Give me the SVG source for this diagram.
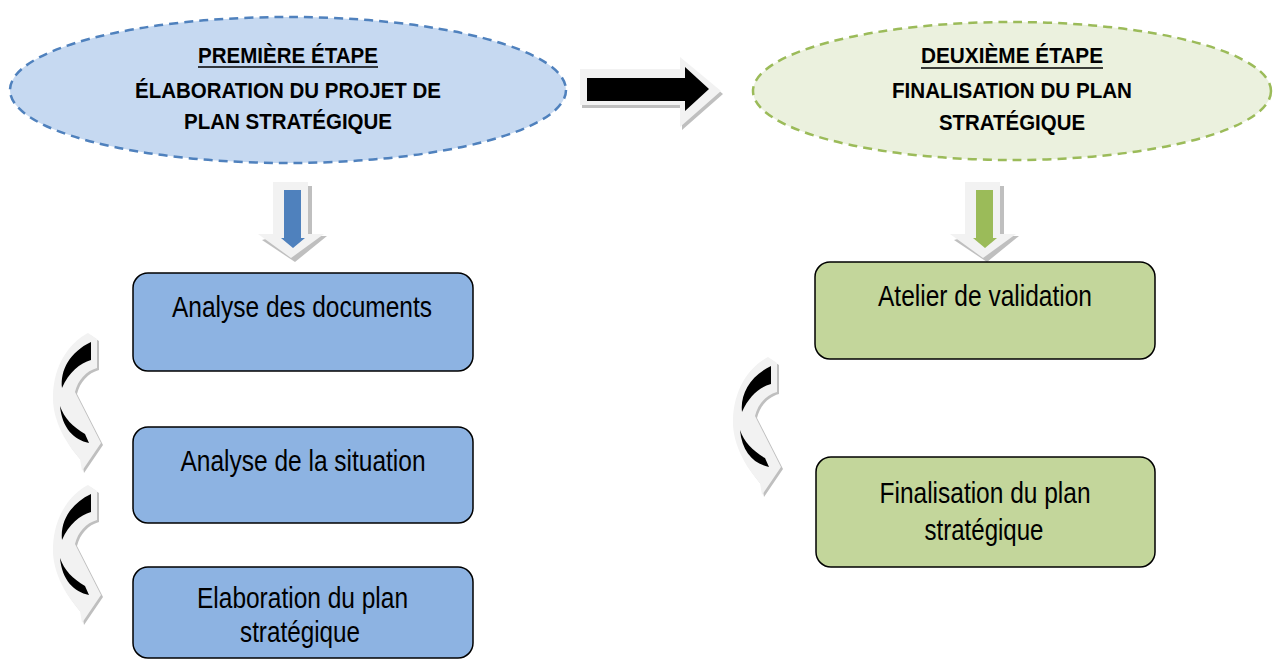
<svg xmlns="http://www.w3.org/2000/svg" width="1274" height="660" viewBox="0 0 1274 660">
<style>
.title{font-family:"Liberation Sans",Arial,sans-serif;font-weight:bold;font-size:22px;fill:#000;text-anchor:middle}
.lbl{font-family:"Liberation Sans",Arial,sans-serif;font-size:29px;fill:#000;text-anchor:middle}
.boxb{fill:#8DB3E2;stroke:#000;stroke-width:1.5}
.boxg{fill:#C3D69B;stroke:#000;stroke-width:1.5}
.light{fill:#F2F2F2}
.shadow{fill:#BFBFBF}
</style>
<defs>
<g id="curved">
<path class="shadow" transform="translate(2,2)" d="M48 3 L57 9 L57 38 C46 41 38 50 35 62 L61 113 L42 141 L40 129 C24 111 12 88 13 65 C14 35 29 13 48 3 Z"/>
<path class="light" d="M48 3 L57 9 L57 38 C46 41 38 50 35 62 L61 113 L42 141 L40 129 C24 111 12 88 13 65 C14 35 29 13 48 3 Z"/>
<path fill="#000" d="M51 12 L51 30 C40 33 29 42 22 58 C20 40 30 22 51 12 Z"/>
<path fill="#000" d="M20 76 C24 88 33 97 45 104 L49 113 C34 110 22 98 20 76 Z"/>
</g>
<g id="down">
<path class="shadow" d="M277 186 L312 186 L312 236 L327 236 L295 262 L262 240 L277 236 Z"/>
<path class="light" d="M273 182 L308 182 L308 234 L324 234 L291 258 L258 234 L273 234 Z"/>
</g>
</defs>

<g id="connectors">
<g id="arrow-right">
<path class="shadow" d="M582 72 L682 72 L682 60 L723 94 L682 130 L682 108 L582 108 Z"/>
<path class="light" d="M580 69 L680 69 L680 57 L721 91 L680 127 L680 105 L580 105 Z"/>
<path fill="#000" d="M587 78 L685 78 L685 67 L709 89 L685 111 L685 101 L587 101 Z"/>
</g>
<g id="arrow-down-blue">
<use href="#down"/>
<path fill="#4F81BD" d="M284 190 L301 190 L301 238 L305 238 L293 248 L281 238 L284 238 Z"/>
</g>
<g id="arrow-down-green">
<use href="#down" transform="translate(692,0)"/>
<path fill="#9BBB59" d="M976 190 L993 190 L993 238 L997 238 L985 248 L973 238 L976 238 Z"/>
</g>
<use id="curved-1" href="#curved" transform="translate(40,330)"/>
<use id="curved-2" href="#curved" transform="translate(40,482)"/>
<use id="curved-3" href="#curved" transform="translate(720,354)"/>
</g>

<g id="etape1">
<ellipse cx="288" cy="90" rx="278" ry="73" fill="#C6D9F1" stroke="#4F81BD" stroke-width="2.5" stroke-dasharray="9,6"/>
<text class="title" x="288" y="63" textLength="180" lengthAdjust="spacingAndGlyphs">PREMIÈRE ÉTAPE</text>
<line x1="198" y1="67" x2="378" y2="67" stroke="#000" stroke-width="1.5"/>
<text class="title" x="288" y="98" textLength="306" lengthAdjust="spacingAndGlyphs">ÉLABORATION DU PROJET DE</text>
<text class="title" x="288" y="129" textLength="208" lengthAdjust="spacingAndGlyphs">PLAN STRATÉGIQUE</text>
</g>

<g id="etape2">
<ellipse cx="1012" cy="91" rx="259" ry="69" fill="#EBF1DE" stroke="#9BBB59" stroke-width="2.5" stroke-dasharray="9,6"/>
<text class="title" x="1012" y="63" textLength="182" lengthAdjust="spacingAndGlyphs">DEUXIÈME ÉTAPE</text>
<line x1="921" y1="68" x2="1103" y2="68" stroke="#000" stroke-width="1.5"/>
<text class="title" x="1012" y="98" textLength="240" lengthAdjust="spacingAndGlyphs">FINALISATION DU PLAN</text>
<text class="title" x="1012" y="130" textLength="146" lengthAdjust="spacingAndGlyphs">STRATÉGIQUE</text>
</g>

<g id="analyse-documents">
<rect class="boxb" x="133" y="273" width="340" height="98" rx="15"/>
<text class="lbl" x="302" y="317" textLength="260" lengthAdjust="spacingAndGlyphs">Analyse des documents</text>
</g>
<g id="analyse-situation">
<rect class="boxb" x="133" y="427" width="340" height="96" rx="15"/>
<text class="lbl" x="303" y="471" textLength="245" lengthAdjust="spacingAndGlyphs">Analyse de la situation</text>
</g>
<g id="elaboration">
<rect class="boxb" x="133" y="567" width="340" height="91" rx="15"/>
<text class="lbl" x="302.5" y="608" textLength="211" lengthAdjust="spacingAndGlyphs">Elaboration du plan</text>
<text class="lbl" x="300" y="642" textLength="120" lengthAdjust="spacingAndGlyphs">stratégique</text>
</g>
<g id="atelier">
<rect class="boxg" x="815" y="262" width="340" height="97" rx="15"/>
<text class="lbl" x="985" y="306" textLength="214" lengthAdjust="spacingAndGlyphs">Atelier de validation</text>
</g>
<g id="finalisation">
<rect class="boxg" x="816" y="457" width="339" height="110" rx="15"/>
<text class="lbl" x="985" y="503" textLength="211" lengthAdjust="spacingAndGlyphs">Finalisation du plan</text>
<text class="lbl" x="984" y="540" textLength="119" lengthAdjust="spacingAndGlyphs">stratégique</text>
</g>
</svg>
